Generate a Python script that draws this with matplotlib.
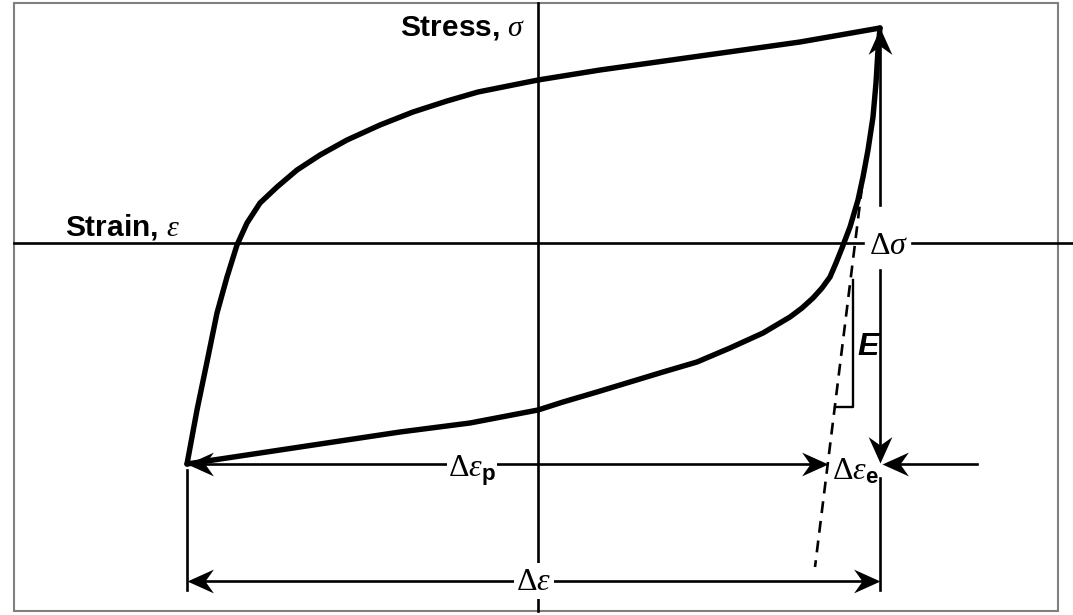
import numpy as np
import matplotlib.pyplot as plt
from matplotlib.patches import Rectangle
from matplotlib.path import Path

plt.rcParams['mathtext.fontset'] = 'custom'
plt.rcParams['mathtext.rm'] = 'Liberation Serif'
plt.rcParams['mathtext.it'] = 'Liberation Serif:italic'
plt.rcParams['mathtext.bf'] = 'Liberation Sans:bold'

# hysteresis loop (strain, stress in arbitrary units)
upper_strain = [-351, -341, -330, -321, -311, -301, -291, -278, -261, -241, -218,
                -191, -158, -125, -91, -60, 0, 62, 162, 262, 342]
upper_stress = [-221, -167, -114, -70, -34, -2, 20, 40, 56, 73, 88,
                103, 118, 131, 142, 151, 163, 173, 187, 201, 215]
lower_strain = [342, 340, 338, 335, 330, 325, 320, 312, 304, 298, 292, 284, 275,
                264, 252, 225, 192, 159, 125, 92, 59, 25, 0, -68, -138, -238, -351]
lower_stress = [215, 193, 160, 126, 93, 66, 43, 16, -5, -20, -34, -45, -55,
                -65, -74, -90, -105, -119, -129, -139, -149, -159, -167, -180, -189, -204, -221]

# elastic modulus line (dashed) end points
e_line_strain = [324, 277]
e_line_stress = [56, -324]

fig = plt.figure(figsize=(10.73, 6.15), dpi=100)
ax = fig.add_axes([0, 0, 1, 1])
ax.set_xlim(-538, 535)
ax.set_ylim(-372, 243)
ax.axis('off')

LW = 1.9


def head(x, y, deg):
    # notched arrow head with its tip at (x, y)
    v = np.array([[0, 0], [-1, 0.45], [-0.68, 0], [-1, -0.45], [0, 0]])
    a = np.deg2rad(deg)
    rot = np.array([[np.cos(a), -np.sin(a)], [np.sin(a), np.cos(a)]])
    p = Path(v @ rot.T, [Path.MOVETO, Path.LINETO, Path.LINETO, Path.LINETO, Path.CLOSEPOLY])
    ax.plot([x], [y], marker=p, ms=38, color='k', mew=0, ls='none', zorder=5)


# outer frame
ax.add_patch(Rectangle((-524, -368), 1044, 608, fill=False, ec='#7f7f7f', lw=1.5))

# axes
ax.plot([-524, 325], [0, 0], color='k', lw=LW)
ax.plot([374, 535], [0, 0], color='k', lw=LW)
ax.plot([0, 0], [240, -368], color='k', lw=LW)

# loop
ax.plot(upper_strain, upper_stress, color='k', lw=3.9, solid_joinstyle='round', solid_capstyle='round')
ax.plot(lower_strain, lower_stress, color='k', lw=3.9, solid_joinstyle='round', solid_capstyle='round')

# dashed elastic line + E triangle
ax.plot(e_line_strain, e_line_stress, color='k', lw=1.9, ls=(0, (4.5, 3)))
ax.plot([315, 315, 297], [-37, -164, -164], color='k', lw=1.7)
ax.text(330, -104, 'E', fontsize=23, fontweight='bold', fontstyle='italic',
        family='Liberation Sans', ha='center', va='center')

# delta sigma
ax.plot([342, 342], [38, 208], color='k', lw=LW)
head(342, 215, 90)
ax.plot([342, 342], [-27, -213], color='k', lw=LW)
head(342, -220, -90)
ax.text(351, -2, r'$\Delta\sigma$', fontsize=23, ha='center', va='center')

# delta eps p / e
ax.plot([-345, 284], [-221, -221], color='k', lw=LW)
head(-351, -221, 180)
head(290, -221, 0)
ax.text(-66, -228, r'$\Delta\varepsilon_{\mathbf{p}}$', fontsize=23, ha='center', va='center',
        bbox=dict(fc='white', ec='none', pad=1))
ax.plot([350, 439], [-221, -221], color='k', lw=LW)
head(344, -221, 180)
ax.text(317, -228, r'$\Delta\varepsilon_{\mathbf{e}}$', fontsize=23, ha='center', va='center')

# extension lines and total delta eps
ax.plot([-351, -351], [-227, -347], color='k', lw=LW)
ax.plot([342, 342], [-235, -347], color='k', lw=LW)
ax.plot([-345, 336], [-338, -338], color='k', lw=LW)
head(-351, -338, 180)
head(342, -338, 0)
ax.text(-4, -338, r'$\Delta\varepsilon$', fontsize=23, ha='center', va='center',
        bbox=dict(fc='white', ec='none', pad=2), zorder=4)

# axis labels
ax.text(-12, 207, r'Stress, $\sigma$', fontsize=21.5, fontweight='bold',
        family='Liberation Sans', ha='right', va='baseline')
ax.text(-473, 8, r'Strain, $\varepsilon$', fontsize=21.5, fontweight='bold',
        family='Liberation Sans', ha='left', va='baseline')

fig.savefig('out.png', dpi=100)
